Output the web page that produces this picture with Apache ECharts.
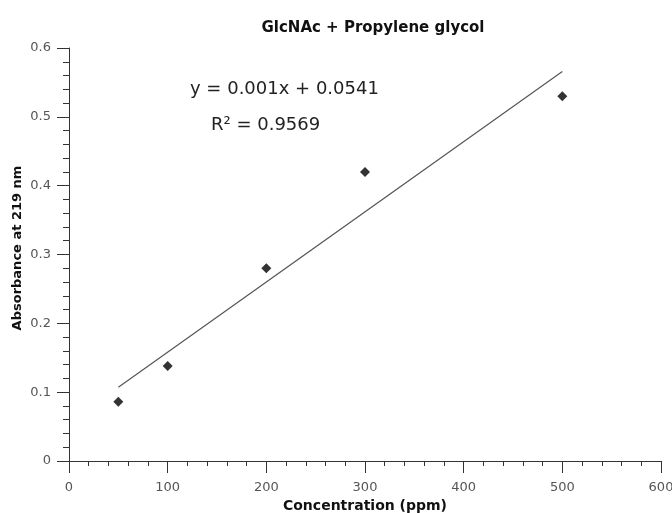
<!DOCTYPE html>
<html>
<head>
<meta charset="utf-8">
<script src="https://cdn.jsdelivr.net/npm/echarts@6/dist/echarts.min.js"></script>
<style>
  html, body { margin: 0; padding: 0; background: #ffffff; }
  #chart { width: 672px; height: 513px; }
</style>
</head>
<body>
<div id="chart"></div>
<script>
// Standard curve: GlcNAc in propylene glycol, absorbance at 219 nm
const concentration = [50, 100, 200, 300, 500];        // ppm
const absorbance = [0.086, 0.138, 0.280, 0.420, 0.530];

// Linear trendline, drawn between the first and last standards
const trendX = [50, 500];
const trendY = [0.107, 0.566];

const equationText = 'y = 0.001x + 0.0541';
const rSquaredText = 'R\u00B2 = 0.9569';

const axisColor = '#333333';
const labelColor = '#555555';
const font = 'DejaVu Sans';

const chart = echarts.init(document.getElementById('chart'), null, { renderer: 'canvas' });

chart.setOption({
  backgroundColor: '#ffffff',
  animation: false,
  title: {
    text: 'GlcNAc + Propylene glycol',
    left: 368,
    top: 16,
    textAlign: 'center',
    textStyle: { fontFamily: font, fontSize: 15, fontWeight: 'bold', color: '#111' }
  },
  grid: {
    left: 69, right: 11, top: 48, bottom: 52,
    containLabel: false,
    outerBoundsMode: 'none'
  },
  xAxis: {
    type: 'value',
    min: 0, max: 600, interval: 100,
    name: 'Concentration (ppm)',
    nameLocation: 'middle',
    nameGap: 36,
    nameTextStyle: { fontFamily: font, fontSize: 14, fontWeight: 'bold', color: '#111' },
    axisLine: { show: true, lineStyle: { color: axisColor, width: 1 } },
    axisTick: { show: true, length: 12, lineStyle: { color: axisColor } },
    minorTick: { show: true, splitNumber: 5, length: 5, lineStyle: { color: axisColor } },
    axisLabel: { fontFamily: font, fontSize: 13, color: labelColor, margin: 20 },
    splitLine: { show: false }
  },
  yAxis: {
    type: 'value',
    min: 0, max: 0.6, interval: 0.1,
    axisLine: { show: true, lineStyle: { color: axisColor, width: 1 } },
    axisTick: { show: true, length: 12, lineStyle: { color: axisColor } },
    minorTick: { show: true, splitNumber: 5, length: 6, lineStyle: { color: axisColor } },
    axisLabel: { fontFamily: font, fontSize: 13, color: labelColor, margin: 18 },
    splitLine: { show: false }
  },
  series: [
    {
      name: 'Trendline',
      type: 'line',
      data: trendX.map((x, i) => [x, trendY[i]]),
      showSymbol: false,
      symbol: 'none',
      lineStyle: { color: '#555', width: 1.2 },
      z: 1
    },
    {
      name: 'Absorbance',
      type: 'scatter',
      data: concentration.map((x, i) => [x, absorbance[i]]),
      symbol: 'diamond',
      symbolSize: 10,
      itemStyle: { color: '#000' },
      z: 2
    }
  ],
  graphic: [
    {
      // y-axis title, rotated
      type: 'text',
      x: 18, y: 248,
      rotation: Math.PI / 2,
      style: {
        text: 'Absorbance at 219 nm',
        font: 'bold 13px "DejaVu Sans"',
        fill: '#111',
        align: 'center',
        verticalAlign: 'middle'
      }
    },
    {
      type: 'text',
      x: 190, y: 89,
      style: { text: equationText, font: '18px "DejaVu Sans"', fill: '#222', verticalAlign: 'middle' }
    },
    {
      type: 'text',
      x: 211, y: 125,
      style: { text: rSquaredText, font: '18px "DejaVu Sans"', fill: '#222', verticalAlign: 'middle' }
    }
  ]
});
</script>
</body>
</html>
